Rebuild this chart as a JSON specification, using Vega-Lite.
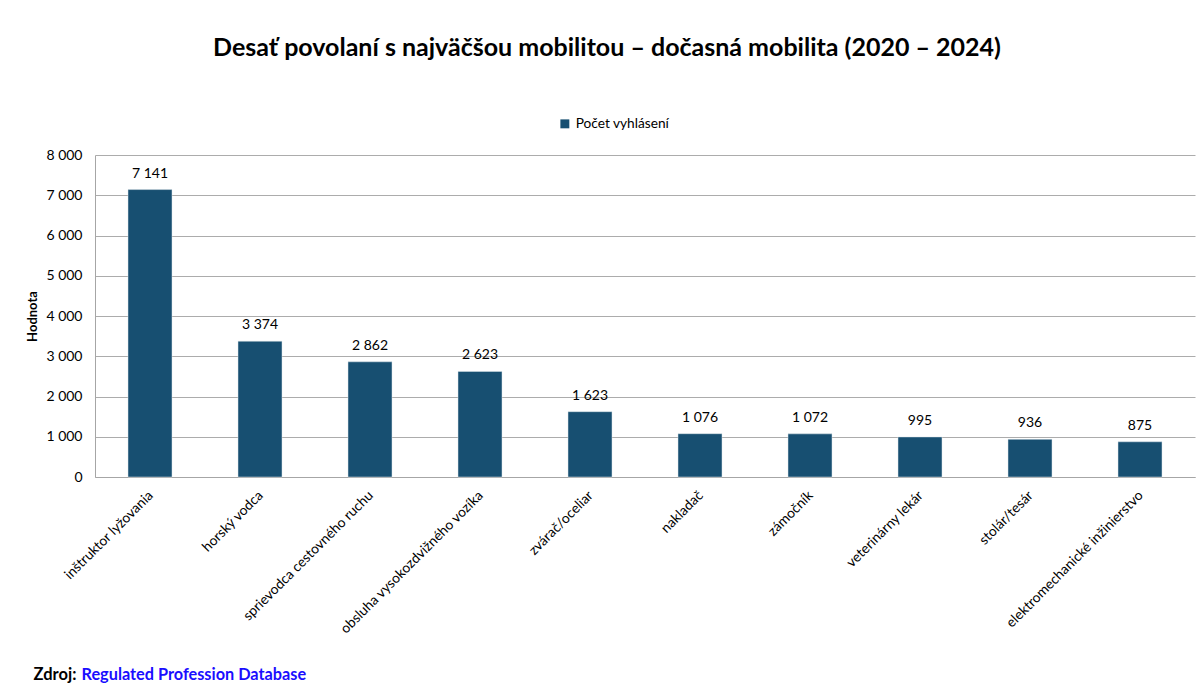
{
  "$schema": "https://vega.github.io/schema/vega-lite/v6.json",
  "autosize": {"type": "none"},
  "padding": {"left": 95, "top": 155, "right": 4, "bottom": 216},
  "width": 1100,
  "height": 322,
  "background": "white",
  "title": {
    "text": "Desať povolaní s najväčšou mobilitou – dočasná mobilita (2020 – 2024)",
    "font": "Lato",
    "fontSize": 25,
    "fontWeight": "bold",
    "color": "#000000",
    "anchor": "middle",
    "frame": "group",
    "dx": -38,
    "offset": 56
  },
  "data": {
    "values": [
      {"povolanie": "inštruktor lyžovania", "pocet": 7141},
      {"povolanie": "horský vodca", "pocet": 3374},
      {"povolanie": "sprievodca cestovného ruchu", "pocet": 2862},
      {"povolanie": "obsluha vysokozdvižného vozíka", "pocet": 2623},
      {"povolanie": "zvárač/oceliar", "pocet": 1623},
      {"povolanie": "nakladač", "pocet": 1076},
      {"povolanie": "zámočník", "pocet": 1072},
      {"povolanie": "veterinárny lekár", "pocet": 995},
      {"povolanie": "stolár/tesár", "pocet": 936},
      {"povolanie": "elektromechanické inžinierstvo", "pocet": 875}
    ]
  },
  "layer": [
    {
      "encoding": {
        "x": {
          "field": "povolanie",
          "type": "nominal",
          "sort": null,
          "scale": {"paddingInner": 0.6, "paddingOuter": 0.3},
          "axis": {
            "title": "Zdroj:",
            "titleFont": "Lato",
            "titleFontSize": 16.5,
            "titleFontWeight": "bold",
            "titleColor": "#000000",
            "titleAlign": "left",
            "titleAnchor": "start",
            "titleBaseline": "alphabetic",
            "titleX": -62,
            "titleY": 202,
            "labelAngle": -45,
            "labelAlign": "right",
            "labelBaseline": "middle",
            "labelFont": "Lato",
            "labelFontSize": 13.8,
            "labelColor": "#000000",
            "labelPadding": 16,
            "labelOffset": 1,
            "labelLimit": 400,
            "ticks": false,
            "domainColor": "#a6a6a6",
            "grid": false
          }
        },
        "y": {
          "field": "pocet",
          "type": "quantitative",
          "scale": {"domain": [0, 8000]},
          "axis": {
            "title": "Hodnota",
            "titleFont": "Lato",
            "titleFontSize": 13,
            "titleFontWeight": "bold",
            "titleColor": "#000000",
            "titlePadding": 6,
            "values": [0, 1000, 2000, 3000, 4000, 5000, 6000, 7000, 8000],
            "format": ",d",
            "labelFont": "Lato",
            "labelFontSize": 14,
            "labelColor": "#000000",
            "labelPadding": 13,
            "ticks": false,
            "domainColor": "#a6a6a6",
            "gridColor": "#acacac",
            "grid": true
          }
        }
      },
      "layer": [
        {
          "mark": {"type": "bar", "stroke": "#dfe6ea", "strokeWidth": 0.5},
          "encoding": {
            "color": {
              "datum": "Počet vyhlásení",
              "type": "nominal",
              "scale": {"range": ["#174f71"]},
              "legend": {
                "title": null,
                "orient": "none",
                "legendX": 463,
                "legendY": -38,
                "symbolType": "square",
                "symbolSize": 80,
                "symbolStrokeWidth": 0,
                "labelFont": "Lato",
                "labelFontSize": 13.7,
                "labelColor": "#000000",
                "labelOffset": 4
              }
            }
          }
        },
        {
          "mark": {"type": "text", "baseline": "bottom", "dy": -9, "font": "Lato", "fontSize": 14, "color": "#000000"},
          "encoding": {
            "text": {"field": "pocet", "type": "quantitative", "format": ",d"}
          }
        }
      ]
    },
    {
      "mark": {"type": "text", "text": ""},
      "encoding": {
        "x": {
          "field": "povolanie",
          "type": "nominal",
          "sort": null,
          "axis": {
            "orient": "bottom",
            "title": "Regulated Profession Database",
            "titleFont": "Lato",
            "titleFontSize": 16.3,
            "titleFontWeight": "bold",
            "titleColor": "#1a0dff",
            "titleAlign": "left",
            "titleAnchor": "start",
            "titleBaseline": "alphabetic",
            "titleX": -14,
            "titleY": 202,
            "labels": false,
            "ticks": false,
            "domain": false,
            "grid": false
          }
        }
      }
    }
  ],
  "resolve": {"scale": {"x": "independent"}},
  "config": {
    "locale": {"number": {"decimal": ",", "thousands": "\u00a0", "grouping": [3], "currency": ["", " €"]}},
    "view": {"stroke": null},
    "font": "Lato"
  }
}
